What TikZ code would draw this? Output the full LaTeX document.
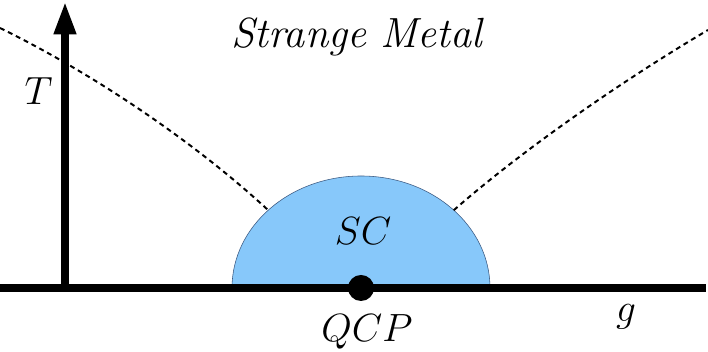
\RequirePackage{fix-cm}
\documentclass[tikz,border=0pt]{standalone}
\usepackage{tikz}
\usetikzlibrary{arrows.meta,calc}
\usepackage{xcolor}
\newcommand{\YAxis}{64}
\newcommand{\XAxisT}{65}
\newcommand{\XQCP}{361}
\newcommand{\DomeRx}{129}
\newcommand{\DomeRy}{112}
\colorlet{DomeColor}{rgb,255:red,135;green,200;blue,250}
\colorlet{DomeEdge}{rgb,255:red,60;green,90;blue,130}

\begin{document}
\begin{tikzpicture}[
  x=0.025cm,y=0.025cm,
  axis/.style={line width=5pt},
  crossover/.style={dashed,line width=1.4pt,dash pattern=on 3.5pt off 2.8pt},
  label/.style={font=\fontsize{28}{32}\selectfont,anchor=base,inner sep=0pt},
  biglabel/.style={label,font=\fontsize{30}{34}\selectfont\itshape},
  qcpdot/.style={circle,fill=black,minimum size=0.65cm,inner sep=0pt}
]
\useasboundingbox (0,0) rectangle (708,352);

% Superconducting dome
\fill[DomeColor,draw=DomeEdge,thin] (\XQCP-\DomeRx,\YAxis)
  arc[start angle=180,end angle=0,x radius=\DomeRx,y radius=\DomeRy] -- cycle;
\coordinate (domeL) at ($(\XQCP,\YAxis)+(136:{\DomeRx} and {\DomeRy})$);
\coordinate (domeR) at ($(\XQCP,\YAxis)+(44:{\DomeRx} and {\DomeRy})$);

% Crossover lines
\coordinate (farL) at (0,324);
\coordinate (farR) at (708,322);
\draw[crossover] (farL) .. controls (100,275) and (200,205) .. (domeL);
\draw[crossover] (domeR) .. controls (520,200) and (620,270) .. (farR);

% Axes
\coordinate (gstart) at (0,\YAxis);
\coordinate (gend) at (706,\YAxis);
\coordinate (Tbase) at (\XAxisT,\YAxis);
\coordinate (Ttip) at (\XAxisT,350);
\draw[axis] (gstart) -- (gend);
\draw[axis,-{Triangle[length=23pt,width=15pt]}] (Tbase) -- (Ttip);

% Quantum critical point
\node[qcpdot] (qcp) at (\XQCP,\YAxis) {};

% Labels
\node[biglabel] (metal) at (357,304) {Strange Metal};
\node[label] (tlabel) at (38.5,247) {$T$};
\node[label] (sc) at (363,107) {$SC$};
\node[label] (qcplabel) at (367,10) {$QCP$};
\node[label] (glabel) at (626,30) {$g$};

\end{tikzpicture}
\end{document}
